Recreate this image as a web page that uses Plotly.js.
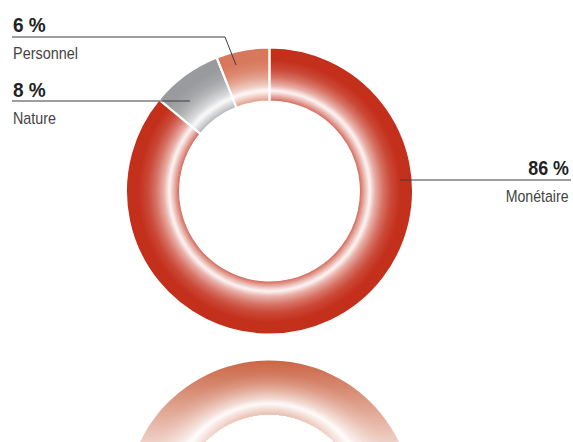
<!DOCTYPE html>
<html><head><meta charset="utf-8">
<script src="https://cdn.plot.ly/plotly-3.0.1.min.js"></script>
<style>
html,body{margin:0;padding:0;width:573px;height:442px;overflow:hidden;background:#fff}
#wrap{width:573px;height:442px;overflow:hidden;position:relative}
#chart{width:573px;height:650px}
</style></head>
<body><div id="wrap"><div id="chart"></div></div>
<script>
// ---- data ----
const categories = ['Personnel', 'Nature', 'Monétaire'];
const shares = [6, 8, 86];
const sliceColors = ['#d8785c', '#999b9e', '#c3301c'];
const mirrorColors = ['#de9478', '#b4b6b9', '#cb6545'];
const labelText = shares.map(v => v + ' %');

// ---- geometry (pixels) ----
const W = 573, H = 650;
const CX = 269.5, CY = 191, R = 143.5, RIN = 89.5;
const RCY = 504; // mirrored copy centre
function px(x) { return x / W; }
function py(y) { return (H - y) / H; }
const total = shares.reduce((a, b) => a + b, 0);
const startRot = -360 * shares[0] / total; // first slice starts at 12 o'clock, going counter-clockwise

function hexToRgb(h) {
  const n = parseInt(h.slice(1), 16);
  return [(n >> 16) & 255, (n >> 8) & 255, n & 255];
}
function mix(hex, w) {
  const c = hexToRgb(hex);
  return 'rgb(' + c.map(v => Math.round(v + (255 - v) * w)).join(',') + ')';
}
// white share across ring depth (0 = inner edge, 1 = outer edge)
const stopT = [0, 0.06, 0.2, 0.3, 0.45, 0.6, 0.78, 1];
const stopW = [0.2, 0.45, 0.96, 0.62, 0.32, 0.12, 0.0, 0];
function whiteAt(t) {
  for (let i = 1; i < stopT.length; i++) {
    if (t <= stopT[i]) {
      const f = (t - stopT[i - 1]) / (stopT[i] - stopT[i - 1]);
      return stopW[i - 1] + (stopW[i] - stopW[i - 1]) * f;
    }
  }
  return stopW[stopW.length - 1];
}

const traces = [];
const N = 40;
function addRing(cy, dir, rot, colors) {
  for (let k = 0; k < N; k++) {
    const rOut = RIN + (R - RIN) * (1 - k / N);
    const t = 1 - (k + 0.5) / N;
    const w = whiteAt(t);
    traces.push({
      type: 'pie', values: shares, labels: categories, sort: false,
      direction: dir, rotation: rot, hole: RIN / rOut,
      domain: { x: [px(CX - rOut), px(CX + rOut)], y: [py(cy + rOut), py(cy - rOut)] },
      marker: { colors: colors.map(c => mix(c, w)), line: { width: 0 } },
      textinfo: 'none', hoverinfo: 'skip', showlegend: false
    });
  }
}
addRing(RCY, 'clockwise', 180, mirrorColors);          // mirrored copy
addRing(CY, 'counterclockwise', startRot, sliceColors); // main ring
// separators
traces.push({
  type: 'pie', values: shares, labels: categories, sort: false,
  direction: 'counterclockwise', rotation: startRot, hole: RIN / R,
  domain: { x: [px(CX - R), px(CX + R)], y: [py(CY + R), py(CY - R)] },
  marker: { colors: sliceColors.map(() => 'rgba(0,0,0,0)'), line: { color: '#ffffff', width: 2 } },
  textinfo: 'none', hoverinfo: 'skip', showlegend: false
});

const shapes = [];
// fade of the mirrored copy
for (let y = 358; y < 442; y += 2) {
  const a = Math.min(0.7, 0.7 * (y - 358) / 84);
  shapes.push({ type: 'rect', xref: 'paper', yref: 'paper', layer: 'above',
    x0: 0, x1: 1, y0: py(y + 2), y1: py(y),
    fillcolor: 'rgba(255,255,255,' + a.toFixed(3) + ')', line: { width: 0 } });
}
// leader lines
const lineStyle = { color: '#3c3c3c', width: 1 };
function path(pts) {
  return pts.map((p, i) => (i ? 'L' : 'M') + px(p[0]) + ',' + py(p[1])).join(' ');
}
shapes.push({ type: 'path', xref: 'paper', yref: 'paper', layer: 'above', path: path([[12, 37], [225, 37], [236, 65]]), line: lineStyle });
shapes.push({ type: 'path', xref: 'paper', yref: 'paper', layer: 'above', path: path([[12, 101], [190, 101]]), line: lineStyle });
shapes.push({ type: 'path', xref: 'paper', yref: 'paper', layer: 'above', path: path([[400, 180], [571, 180]]), line: lineStyle });

const FONT = "'Liberation Sans', Arial, sans-serif";
function ann(text, x, y, anchor, size, bold) {
  return { text: bold ? '<b>' + text + '</b>' : text, xref: 'paper', yref: 'paper',
    x: px(x), y: py(y), xanchor: anchor, yanchor: 'middle', showarrow: false,
    font: { family: FONT, size: size, color: bold ? '#222222' : '#444444' } };
}
const annotations = [
  ann(labelText[0], 11, 25.3, 'left', 20, true),
  ann(categories[0], 11, 53, 'left', 17, false),
  ann(labelText[1], 11, 90, 'left', 20, true),
  ann(categories[1], 11, 118, 'left', 17, false),
  ann(labelText[2], 571, 167.5, 'right', 21, true),
  ann(categories[2], 571, 196, 'right', 17, false)
];
// widths of the condensed lettering in the original (px)
const targetWidth = [33, 65, 33, 43, 41, 63];

Plotly.newPlot('chart', traces, {
  width: W, height: H, margin: { l: 0, r: 0, t: 0, b: 0 },
  paper_bgcolor: '#ffffff', plot_bgcolor: '#ffffff', showlegend: false,
  shapes: shapes, annotations: annotations
}, { displayModeBar: false, staticPlot: true }).then(gd => {
  annotations.forEach((a, i) => {
    const el = gd.querySelector('.annotation[data-index="' + i + '"] text.annotation-text');
    if (!el) return;
    const bb = el.getBBox();
    if (!bb.width) return;
    const s = targetWidth[i] / bb.width;
    const ax = a.xanchor === 'left' ? bb.x : bb.x + bb.width;
    el.setAttribute('transform', 'translate(' + ax + ',0) scale(' + s + ',1) translate(' + (-ax) + ',0)');
  });
});
</script>
</body></html>
